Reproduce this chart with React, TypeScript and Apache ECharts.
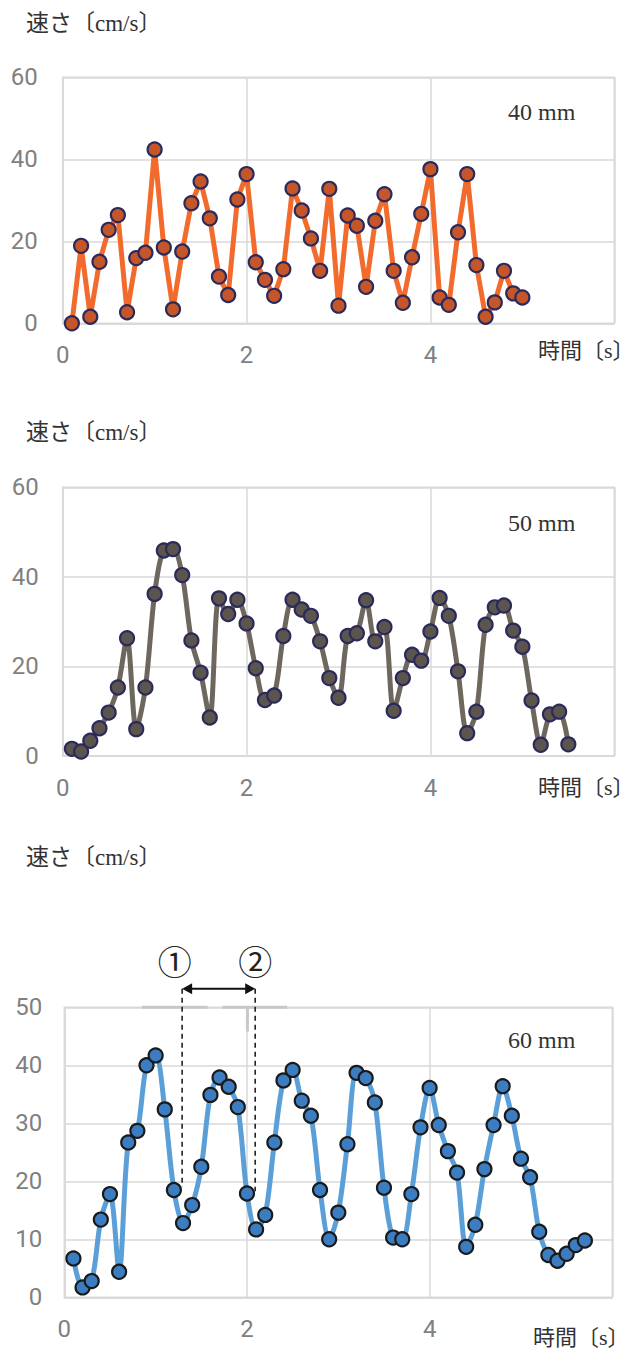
import React, { useEffect, useRef } from "react";
import * as echarts from "echarts";

// time stamps [s]
const TIME = [
  0.1, 0.2, 0.3, 0.4, 0.5, 0.6, 0.7, 0.8, 0.9, 1.0,
  1.1, 1.2, 1.3, 1.4, 1.5, 1.6, 1.7, 1.8, 1.9, 2.0,
  2.1, 2.2, 2.3, 2.4, 2.5, 2.6, 2.7, 2.8, 2.9, 3.0,
  3.1, 3.2, 3.3, 3.4, 3.5, 3.6, 3.7, 3.8, 3.9, 4.0,
  4.1, 4.2, 4.3, 4.4, 4.5, 4.6, 4.7, 4.8, 4.9, 5.0,
  5.1, 5.2, 5.3, 5.4, 5.5, 5.6, 5.7,
];

// speed [cm/s]
const SPEED_40 = [
  0, 18.9, 1.6, 15.0, 22.8, 26.4, 2.7, 15.9, 17.2, 42.4,
  18.5, 3.4, 17.5, 29.3, 34.6, 25.6, 11.4, 6.9, 30.2, 36.4,
  14.9, 10.6, 6.7, 13.2, 32.9, 27.5, 20.7, 12.8, 32.8, 4.3,
  26.3, 23.8, 8.9, 25.0, 31.5, 12.8, 5.0, 16.1, 26.7, 37.6,
  6.3, 4.5, 22.2, 36.4, 14.2, 1.6, 5.1, 12.8, 7.3, 6.3,
];
const SPEED_50 = [
  1.6, 1.0, 3.4, 6.2, 9.7, 15.3, 26.3, 6.0, 15.3, 36.2,
  45.9, 46.2, 40.4, 25.8, 18.6, 8.6, 35.2, 31.7, 34.9, 29.6,
  19.6, 12.5, 13.5, 26.8, 34.9, 32.7, 31.3, 25.6, 17.4, 13.0,
  26.8, 27.4, 34.8, 25.6, 28.8, 10.1, 17.4, 22.6, 21.3, 27.8,
  35.3, 31.3, 18.9, 5.1, 9.9, 29.3, 33.2, 33.6, 28.0, 24.4,
  12.4, 2.5, 9.3, 9.9, 2.6,
];
const SPEED_60 = [
  6.7, 1.7, 2.8, 13.4, 17.8, 4.4, 26.7, 28.7, 40.0, 41.7,
  32.4, 18.5, 12.8, 15.9, 22.5, 34.9, 37.9, 36.3, 32.8, 17.9,
  11.7, 14.2, 26.7, 37.4, 39.2, 33.9, 31.3, 18.5, 10.0, 14.6,
  26.4, 38.7, 37.8, 33.6, 18.9, 10.3, 10.0, 17.8, 29.3, 36.1,
  29.7, 25.2, 21.5, 8.7, 12.5, 22.1, 29.7, 36.4, 31.3, 23.9,
  20.7, 11.3, 7.3, 6.3, 7.5, 9.0, 9.8,
];

const SERIES = [SPEED_40, SPEED_50, SPEED_60];
const PANEL_LABELS = ["40 mm", "50 mm", "60 mm"];
const X_TICK_LABELS = ["0", "2", "4"];
const X_MAX = 6;
const X_STEP = 2;
const Y_MAX = [60, 60, 50];
const Y_STEP = [20, 20, 10];
const Y_NAME = "速さ〔cm/s〕";
const X_NAME = "時間〔s〕";

// annotation in the 60 mm panel (data coordinates)
const MARK_T = [1.29, 2.09];
const MARK_BOTTOM = [19.0, 18.3];
const MARK_TOP = 53.2;
const MARK_LABEL_T = [1.21, 2.09];
const MARK_LABEL_V = 58.0;
const MARK_TEXT = ["①", "②"];
// grey leftover strokes near the top of the 60 mm panel
const GREY_SEGMENTS = [
  [0.85, 50, 1.57, 50],
  [1.73, 50, 2.44, 50],
  [2.005, 50, 2.005, 45.8],
];

// layout
const GRIDS = [
  { left: 62.7, top: 77.3, width: 551.6, height: 246 },
  { left: 62.7, top: 487.3, width: 551.6, height: 268.7 },
  { left: 64.3, top: 1007.3, width: 548, height: 290 },
];
const Y_LABEL_MARGIN = [25, 24, 22];
const Y_NAME_POS = [[26, 23], [26, 432], [26, 857]];
const X_NAME_POS = [[538, 350], [538, 787], [533, 1337]];
const PANEL_LABEL_POS = [[508, 112], [508, 523], [508, 1040]];

const STYLES = [
  { line: "#F26B2C", fill: "#C4562A", border: "#2B2A5C", smooth: false as any },
  { line: "#6E675E", fill: "#5B554D", border: "#2B2A5C", smooth: 0.3 },
  { line: "#5B9FD8", fill: "#3B7DC0", border: "#1A1A1A", smooth: 0.3 },
];

const GRID_COLOR = "#D9D9D9";
const TICK_COLOR = "#808080";
const SANS = "Roboto, 'Noto Sans', sans-serif";
const SERIF = "'Liberation Serif', 'DejaVu Serif', 'Noto Sans CJK JP', serif";

export default function App() {
  const ref = useRef<HTMLDivElement>(null);

  useEffect(() => {
    if (!ref.current) return;
    const chart = echarts.init(ref.current, undefined, { renderer: "svg" });

    const grids = GRIDS.map((g) => ({
      ...g,
      show: true,
      borderColor: GRID_COLOR,
      borderWidth: 1.5,
      containLabel: false,
    }));

    const xAxes = GRIDS.map((_, i) => ({
      type: "value",
      gridIndex: i,
      min: 0,
      max: X_MAX,
      interval: X_STEP,
      axisLine: { show: true, lineStyle: { color: GRID_COLOR, width: 1.5 } },
      axisTick: { show: false },
      splitLine: { show: true, lineStyle: { color: GRID_COLOR, width: 1.5 } },
      axisLabel: {
        color: TICK_COLOR,
        fontSize: 24,
        fontFamily: SANS,
        margin: 20,
        formatter: (v: number) => {
          const s = String(v);
          return X_TICK_LABELS.includes(s) ? s : "";
        },
      },
    }));

    const yAxes = GRIDS.map((_, i) => ({
      type: "value",
      gridIndex: i,
      min: 0,
      max: Y_MAX[i],
      interval: Y_STEP[i],
      axisLine: { show: true, lineStyle: { color: GRID_COLOR, width: 1.5 } },
      axisTick: { show: false },
      splitLine: { show: true, lineStyle: { color: GRID_COLOR, width: 1.5 } },
      axisLabel: {
        color: TICK_COLOR,
        fontSize: 24,
        fontFamily: SANS,
        margin: Y_LABEL_MARGIN[i],
      },
    }));

    const series = SERIES.map((vals, i) => ({
      type: "line",
      xAxisIndex: i,
      yAxisIndex: i,
      data: vals.map((v, k) => [TIME[k], v]),
      smooth: STYLES[i].smooth,
      symbol: "circle",
      symbolSize: 14,
      showSymbol: true,
      lineStyle: { color: STYLES[i].line, width: 5 },
      itemStyle: {
        color: STYLES[i].fill,
        borderColor: STYLES[i].border,
        borderWidth: 2.2,
      },
      z: 3,
    }));

    const staticTexts: any[] = [];
    for (let i = 0; i < 3; i++) {
      staticTexts.push({
        type: "text",
        x: Y_NAME_POS[i][0],
        y: Y_NAME_POS[i][1],
        style: {
          text: Y_NAME,
          fontSize: 23,
          fontFamily: SERIF,
          fill: "#333333",
          textAlign: "left",
          textVerticalAlign: "middle",
        },
      });
      staticTexts.push({
        type: "text",
        x: X_NAME_POS[i][0],
        y: X_NAME_POS[i][1],
        style: {
          text: X_NAME,
          fontSize: 22,
          fontFamily: SERIF,
          fill: "#333333",
          textAlign: "left",
          textVerticalAlign: "middle",
        },
      });
      staticTexts.push({
        type: "text",
        x: PANEL_LABEL_POS[i][0],
        y: PANEL_LABEL_POS[i][1],
        style: {
          text: PANEL_LABELS[i],
          fontSize: 24,
          fontFamily: SERIF,
          fill: "#333333",
          textAlign: "left",
          textVerticalAlign: "middle",
        },
      });
    }

    chart.setOption({
      animation: false,
      backgroundColor: "#ffffff",
      grid: grids,
      xAxis: xAxes,
      yAxis: yAxes,
      series,
      graphic: staticTexts,
    });

    // annotation drawn through the third panel's scales
    const px = (t: number, v: number) =>
      chart.convertToPixel({ gridIndex: 2 } as any, [t, v]) as number[];

    const ann: any[] = [];
    GREY_SEGMENTS.forEach((s) => {
      const a = px(s[0], s[1]);
      const b = px(s[2], s[3]);
      ann.push({
        type: "line",
        shape: { x1: a[0], y1: a[1], x2: b[0], y2: b[1] },
        style: { stroke: "#C8C8C8", lineWidth: 3 },
        z: 2,
      });
    });
    const tops = MARK_T.map((t) => px(t, MARK_TOP));
    MARK_T.forEach((t, i) => {
      const a = tops[i];
      const b = px(t, MARK_BOTTOM[i]);
      ann.push({
        type: "line",
        shape: { x1: a[0], y1: a[1], x2: b[0], y2: b[1] },
        style: { stroke: "#222222", lineWidth: 1.6, lineDash: [5, 4] },
        z: 100,
      });
    });
    const yA = tops[0][1];
    const xL = tops[0][0];
    const xR = tops[1][0];
    const head = 10;
    const half = 5.5;
    ann.push({
      type: "line",
      shape: { x1: xL + head - 1, y1: yA, x2: xR - head + 1, y2: yA },
      style: { stroke: "#111111", lineWidth: 2.2 },
      z: 100,
    });
    ann.push({
      type: "polygon",
      shape: { points: [[xL, yA], [xL + head, yA - half], [xL + head, yA + half]] },
      style: { fill: "#111111" },
      z: 100,
    });
    ann.push({
      type: "polygon",
      shape: { points: [[xR, yA], [xR - head, yA - half], [xR - head, yA + half]] },
      style: { fill: "#111111" },
      z: 100,
    });
    MARK_TEXT.forEach((txt, i) => {
      const p = px(MARK_LABEL_T[i], MARK_LABEL_V);
      ann.push({
        type: "text",
        x: p[0],
        y: p[1],
        style: {
          text: txt,
          fontSize: 34,
          fontFamily: "'Noto Sans CJK JP', 'DejaVu Sans', sans-serif",
          fill: "#222222",
          textAlign: "center",
          textVerticalAlign: "middle",
        },
        z: 100,
      });
    });

    chart.setOption({ graphic: [...staticTexts, ...ann] });

    return () => {
      chart.dispose();
    };
  }, []);

  return (
    <div
      ref={ref}
      style={{
        position: "absolute",
        left: 0,
        top: 0,
        width: 634,
        height: 1349,
        background: "#ffffff",
      }}
    />
  );
}
